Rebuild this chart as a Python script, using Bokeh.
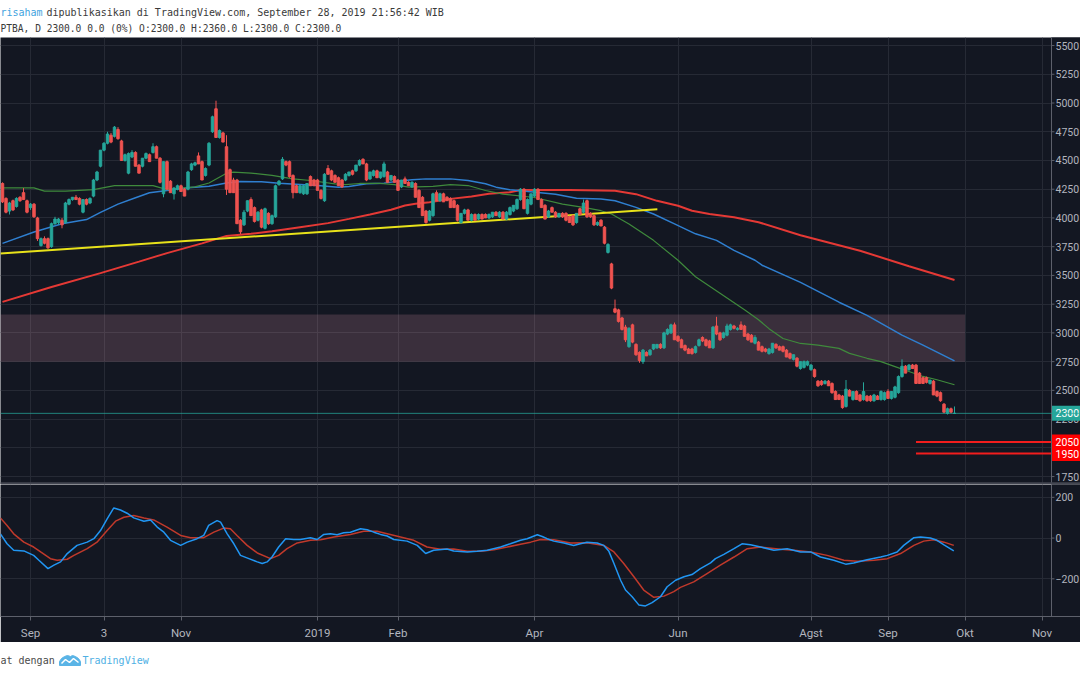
from bokeh.plotting import figure
from bokeh.models import Range1d, FixedTicker, Grid, Span, Label, ColumnDataSource
from bokeh.layouts import column
from bokeh.embed import file_html
from bokeh.resources import INLINE
from bokeh.core.properties import value

# ---------------- header texts ----------------
publisher = "risaham"
published = "dipublikasikan di TradingView.com, September 28, 2019 21:56:42 WIB"
info_line = "PTBA, D 2300.0 0.0 (0%) O:2300.0 H:2360.0 L:2300.0 C:2300.0"
footer_text = "at dengan"
brand = "TradingView"

# ---------------- axes ----------------
month_idx = [8, 29, 51, 90, 113, 152, 193, 231, 253, 275, 297]
month_labels = ["Sep", "3", "Nov", "2019", "Feb", "Apr", "Jun", "Agst", "Sep", "Okt", "Nov"]
price_ticks = [1750, 2000, 2250, 2500, 2750, 3000, 3250, 3500, 3750, 4000,
               4250, 4500, 4750, 5000, 5250, 5500]
osc_ticks = [-200, 0, 200]
osc_tick_labels = ["\u2212200", "0", "200"]

# ---------------- daily candles (bar index 0..272) ----------------
open_ = [4300,4170,4060,4150,4100,4180,4220,4150,4090,4120,
         4000,3760,3820,3820,3750,3950,3960,3980,3960,4120,
         4160,4180,4170,4050,4160,4130,4190,4330,4450,4590,
         4650,4720,4710,4770,4670,4500,4390,4530,4570,4460,
         4450,4520,4550,4570,4620,4520,4210,4490,4320,4210,
         4250,4280,4250,4250,4420,4460,4540,4490,4370,4460,
         4750,4950,4700,4740,4620,4420,4330,4330,3980,3940,
         4060,4160,4090,3980,4070,3910,4040,3950,4010,4290,
         4340,4490,4490,4370,4280,4220,4210,4210,4360,4330,
         4330,4240,4150,4430,4410,4370,4350,4330,4330,4370,
         4410,4410,4460,4510,4470,4340,4370,4410,4350,4360,
         4400,4330,4360,4330,4270,4340,4310,4270,4300,4240,
         4180,4060,3980,4020,4220,4150,4210,4180,4170,4150,
         4110,3960,4040,4070,3980,4030,3990,4030,4030,4000,
         4010,4050,4010,4050,3990,4030,4060,4080,4160,4250,
         4040,4120,4190,4250,4160,4110,4010,4090,4050,4010,
         4040,4040,4010,4020,3960,4080,4050,4150,4040,4020,
         3940,3980,3920,3700,3600,3210,3200,3130,3050,2880,
         3070,2900,2830,2750,2830,2810,2860,2870,2900,2870,
         2990,3000,3070,2970,2940,2890,2860,2860,2830,2890,
         2960,2940,2930,2870,3060,3000,2960,2980,3030,3060,
         3030,3070,3060,2990,2980,2910,2920,2880,2860,2820,
         2830,2900,2880,2880,2850,2820,2770,2780,2690,2700,
         2720,2680,2680,2580,2580,2560,2580,2560,2490,2460,
         2450,2360,2500,2420,2490,2460,2420,2450,2450,2410,
         2450,2420,2420,2490,2430,2440,2480,2620,2710,2680,
         2720,2720,2650,2610,2610,2560,2580,2490,2480,2380,
         2300,2340,2300]
high = [4310,4180,4140,4160,4180,4190,4260,4160,4130,4130,
        4010,3830,3840,3830,3960,4010,4000,4000,4140,4170,
        4180,4200,4180,4160,4170,4180,4340,4410,4590,4660,
        4750,4740,4800,4790,4680,4560,4570,4590,4580,4470,
        4520,4570,4560,4650,4630,4530,4490,4500,4330,4270,
        4290,4290,4260,4410,4480,4490,4570,4500,4440,4660,
        4890,5020,4770,4750,4720,4430,4350,4340,3990,4070,
        4150,4180,4100,4060,4080,4090,4050,4030,4290,4330,
        4530,4500,4500,4380,4290,4290,4290,4300,4370,4340,
        4340,4250,4390,4460,4420,4380,4360,4340,4390,4400,
        4420,4460,4510,4520,4480,4400,4420,4420,4400,4490,
        4410,4370,4370,4340,4330,4360,4320,4320,4310,4250,
        4190,4070,4070,4220,4240,4220,4220,4190,4180,4160,
        4120,4040,4080,4080,4040,4040,4040,4040,4040,4040,
        4050,4060,4060,4060,4060,4100,4110,4170,4260,4260,
        4170,4210,4260,4260,4170,4120,4070,4100,4060,4040,
        4050,4050,4020,4030,4040,4090,4160,4160,4050,4030,
        3970,3990,3930,3780,3610,3290,3210,3140,3070,3050,
        3080,2910,2840,2860,2840,2860,2900,2900,2910,3010,
        3040,3080,3090,2980,2950,2900,2870,2870,2890,2950,
        2970,2950,2940,3060,3140,3010,3010,3080,3080,3070,
        3050,3100,3070,3000,2990,2980,2930,2890,2870,2870,
        2910,2910,2890,2890,2860,2830,2810,2790,2750,2760,
        2760,2730,2690,2590,2590,2590,2590,2570,2500,2470,
        2460,2590,2510,2490,2500,2470,2570,2460,2460,2470,
        2460,2500,2490,2510,2490,2540,2630,2770,2720,2730,
        2730,2730,2660,2620,2620,2590,2590,2500,2490,2390,
        2350,2350,2360]
low = [4130,4040,4030,4060,4090,4140,4160,4040,4070,4000,
       3800,3750,3770,3730,3740,3940,3940,3910,3950,4110,
       4150,4160,4110,4040,4110,4120,4180,4320,4440,4580,
       4640,4650,4700,4680,4500,4490,4380,4520,4450,4390,
       4440,4510,4490,4560,4520,4300,4180,4250,4220,4160,
       4240,4230,4190,4240,4410,4450,4470,4330,4360,4450,
       4740,4700,4690,4660,4200,4220,4220,3950,3860,3930,
       4050,4020,3960,3970,3910,3900,3940,3940,4000,4280,
       4330,4450,4350,4170,4220,4210,4200,4200,4280,4280,
       4240,4160,4140,4380,4320,4310,4280,4260,4320,4360,
       4370,4400,4450,4470,4320,4330,4360,4350,4340,4350,
       4310,4320,4310,4240,4260,4300,4280,4260,4180,4090,
       4020,3950,3970,4010,4150,4140,4140,4150,4090,4090,
       3970,3950,4030,3980,3970,3980,3980,3990,4000,3990,
       4000,4020,4000,3990,3980,4020,4050,4070,4150,4080,
       4030,4110,4180,4160,4090,3990,4000,4050,4000,4000,
       4000,3970,3960,3930,3950,4030,4040,4000,4000,3930,
       3930,3930,3770,3690,3380,3170,3090,3020,2920,2870,
       2910,2800,2740,2730,2800,2800,2850,2860,2860,2860,
       2980,2990,2940,2920,2870,2840,2820,2810,2820,2880,
       2920,2880,2870,2860,2980,2930,2950,2970,3020,3030,
       3020,3030,2970,2930,2920,2900,2850,2830,2830,2810,
       2820,2860,2850,2830,2790,2770,2760,2700,2680,2690,
       2710,2670,2610,2530,2540,2550,2540,2470,2420,2420,
       2340,2350,2450,2410,2420,2400,2410,2400,2400,2400,
       2420,2410,2410,2430,2420,2430,2470,2610,2650,2670,
       2690,2560,2560,2560,2560,2550,2460,2440,2400,2300,
       2290,2300,2300]
close = [4140,4050,4130,4070,4170,4150,4160,4050,4120,4010,
         3820,3820,3780,3740,3950,3990,3990,3940,4130,4160,
         4180,4160,4120,4160,4120,4170,4330,4400,4590,4650,
         4730,4660,4790,4690,4500,4550,4560,4570,4450,4390,
         4520,4560,4490,4620,4520,4310,4490,4250,4220,4260,
         4280,4230,4190,4400,4470,4480,4470,4330,4430,4650,
         4880,4700,4760,4660,4250,4220,4220,3950,3880,4050,
         4150,4020,3970,4050,3920,4080,3950,4020,4280,4320,
         4510,4460,4360,4220,4220,4280,4280,4300,4280,4280,
         4240,4170,4380,4380,4330,4310,4280,4270,4380,4400,
         4380,4460,4500,4470,4330,4400,4410,4350,4400,4470,
         4310,4370,4310,4240,4330,4300,4280,4310,4180,4090,
         4020,3960,4060,4210,4150,4210,4140,4150,4090,4090,
         3980,4040,4070,3980,4030,3980,4030,3990,4000,4030,
         4050,4020,4050,3990,4050,4090,4110,4160,4250,4080,
         4160,4210,4250,4160,4090,3990,4060,4050,4010,4040,
         4010,3980,3960,3940,4040,4030,4130,4010,4010,3940,
         3960,3930,3780,3770,3390,3180,3100,3030,2940,3040,
         2920,2810,2760,2850,2800,2850,2900,2900,2870,3000,
         3030,3070,2940,2930,2870,2850,2820,2820,2880,2940,
         2930,2890,2870,3050,2990,2940,3000,3060,3070,3040,
         3040,3030,2970,2940,2920,2960,2850,2840,2840,2860,
         2910,2870,2850,2840,2790,2780,2810,2710,2750,2750,
         2750,2720,2620,2540,2550,2580,2540,2480,2420,2420,
         2350,2510,2450,2490,2420,2410,2490,2410,2410,2460,
         2420,2490,2480,2430,2490,2530,2620,2710,2650,2720,
         2690,2560,2560,2560,2570,2590,2460,2450,2410,2310,
         2340,2310,2300]

# ---------------- moving averages (read at sample bars) ----------------
ma_green_x = [0,9,12,18,26,32,43,47,55,59,64,66,71,77,83,88,95,98,102,108,
              112,116,123,128,133,138,143,152,160,166,171,174,179,186,193,198,205,212,216,219,
              223,228,233,239,242,247,251,255,259,263,267,272]
ma_green_y = [4262,4262,4233,4233,4247,4281,4281,4247,4270,4304,4389,4398,4390,4370,4340,4326,4297,4290,4300,4300,
              4290,4268,4274,4290,4282,4239,4207,4178,4121,4092,4063,4034,3948,3805,3632,3488,3345,3201,3115,3037,
              2951,2908,2894,2865,2822,2779,2750,2707,2664,2621,2592,2549]
ma_blue_x = [0,9,17,24,28,33,38,42,47,53,59,64,68,74,79,90,96,99,104,109,
             113,117,121,128,133,138,141,145,148,158,164,171,175,181,186,192,198,204,209,215,
             217,228,239,247,257,263,272]
ma_blue_y = [3779,3878,3949,3986,4049,4120,4176,4219,4239,4262,4276,4304,4318,4315,4303,4282,4268,4274,4297,4303,
             4320,4332,4340,4340,4326,4297,4268,4245,4236,4207,4172,4164,4149,4092,4034,3948,3862,3805,3718,3632,
             3589,3440,3267,3152,2980,2894,2756]
ma_red_x = [0,14,28,39,47,57,64,71,77,85,93,99,105,111,115,118,122,128,134,139,
            145,148,162,175,181,187,193,197,202,209,216,228,245,259,272]
ma_red_y = [3270,3400,3520,3620,3694,3779,3844,3862,3885,3920,3955,3992,4030,4071,4108,4123,4137,4166,4187,4210,
            4224,4244,4244,4236,4207,4149,4106,4063,4034,4006,3963,3850,3715,3580,3460]

# ---------------- drawings ----------------
trend_x = [-0.6, 187.1]
trend_y = [3690, 4075]
zone_left, zone_right = -1, 275
zone_low, zone_high = 2750, 3160
level_prices = [2050, 1950]
level_start = 261

# ---------------- oscillator ----------------
osc_blue_x = [-0.6,1.3,3.2,6.1,8.9,10.4,13.0,14.7,16.6,18.5,21.3,24.2,26.1,28.0,29.9,31.8,33.7,35.6,37.5,40.4,
              42.3,44.2,46.1,48.0,50.9,52.8,55.6,57.5,58.9,61.3,62.3,64.2,66.1,68.0,70.4,72.8,74.2,75.6,77.0,78.9,
              80.9,83.2,85.1,88.0,89.9,91.8,93.7,95.6,97.5,99.4,102.3,104.2,106.1,108.0,109.9,111.8,115.6,118.5,120.9,123.2,
              127.0,128.9,132.8,135.6,138.5,142.3,145.1,148.0,149.9,152.8,154.2,155.6,157.5,160.4,163.2,165.1,167.0,169.9,171.8,173.2,
              174.7,176.6,178.0,179.9,181.8,183.7,185.6,188.0,189.9,192.3,194.7,197.0,199.4,202.3,203.7,206.1,209.0,211.3,213.7,216.6,
              220.4,224.2,228.0,230.9,233.7,237.5,240.9,243.2,247.0,250.9,252.8,255.6,257.5,260.4,262.3,265.1,267.0,269.0,271.8]
osc_blue = [21,-28,-60,-63,-85,-109,-150,-133,-117,-76,-36,-20,-3,37,94,148,138,122,99,83,
            89,54,29,-11,-36,-20,-3,13,62,86,78,21,-28,-85,-101,-117,-125,-117,-93,-44,
            -3,-7,-7,2,-7,18,21,16,26,29,46,41,29,18,10,-7,-15,-36,-76,-60,
            -54,-63,-68,-65,-60,-44,-28,-11,-3,16,8,-3,-15,-24,-36,-28,-20,-24,-36,-63,
            -125,-207,-255,-288,-328,-333,-317,-288,-239,-207,-190,-179,-150,-122,-101,-80,-52,-28,-33,-44,
            -60,-52,-68,-68,-93,-109,-128,-122,-106,-93,-85,-68,-36,2,5,0,-11,-33,-63]
osc_red_x = [-0.6,1.3,3.2,6.1,8.9,10.9,13.7,15.6,18.5,20.4,24.2,27.0,29.9,32.3,34.7,37.5,40.4,43.2,47.0,50.9,
             53.7,57.5,60.4,63.2,65.1,67.0,69.9,72.8,76.6,78.9,81.3,84.2,88.0,90.9,94.7,99.4,103.2,107.0,109.9,113.7,
             117.5,121.3,125.1,128.9,132.8,136.6,140.4,144.2,148.0,150.9,153.7,157.5,162.3,167.0,171.8,174.7,177.5,180.4,183.2,186.1,
             189.0,191.8,193.7,197.5,201.3,205.1,209.0,212.8,216.6,222.3,226.1,230.9,235.6,240.4,244.2,249.0,252.8,256.6,260.4,263.2,
             266.1,269.0,271.8]
osc_red = [99,62,21,-20,-44,-68,-101,-109,-104,-85,-52,-20,37,83,102,111,99,89,54,13,
           2,2,29,49,46,13,-36,-73,-101,-85,-52,-24,-11,-8,5,18,34,33,21,5,
           -11,-44,-55,-54,-65,-65,-57,-44,-30,-20,-7,-8,-24,-23,-36,-68,-125,-190,-255,-291,
           -285,-263,-242,-215,-174,-133,-93,-52,-44,-55,-60,-68,-85,-109,-114,-109,-101,-76,-36,-15,
           -8,-20,-36]

# ---------------- layout / style constants ----------------
W = 1080
H_HDR, H_PRICE, H_OSC, H_FTR = 37, 447, 158, 33
BG = "#131722"
GRID_C = "#262a35"
AX_LINE = "#5d606b"
AX_TXT = "#b2b5be"
UP = "#26a69a"
DOWN = "#ef5350"
AX_FONT = "Roboto"
BAR_PX = 3.5             # pixels per bar
X_START = -2 / BAR_PX    # bar index at the left edge of the panes
X_END = X_START + W / BAR_PX
AXIS_X = X_START + 1051 / BAR_PX     # price-scale line
TICK_X = X_START + 1055 / BAR_PX     # end of tick marks / start of labels
P_LO, P_HI = 1681, 5570
PRICE_PER_PX = (P_HI - P_LO) / H_PRICE
O_LO, O_HI = -385, 263

n = len(close)
src = ColumnDataSource(dict(
    x=list(range(n)), h=high, l=low,
    top=[max(o, c) for o, c in zip(open_, close)],
    bottom=[min(o, c) for o, c in zip(open_, close)],
    color=[UP if c >= o else DOWN for o, c in zip(open_, close)],
))


def blank(fig):
    fig.grid.visible = False


# ---------------- header ----------------
hdr = figure(width=W, height=H_HDR, x_range=Range1d(0, W), y_range=Range1d(0, H_HDR),
             toolbar_location=None, output_backend="svg", title=None,
             x_axis_location=None, y_axis_location=None, min_border=0,
             background_fill_color="white", border_fill_color="white", outline_line_color=None)
blank(hdr)
hdr.add_layout(Label(x=0, y=25, text=publisher, text_font="DejaVu Sans Mono", text_font_size="10px",
                     text_color="#3fa3de", text_baseline="middle"))
hdr.add_layout(Label(x=46, y=25, text=published, text_font="DejaVu Sans Mono", text_font_size="10px",
                     text_color="#3a3a3a", text_baseline="middle"))
hdr.add_layout(Label(x=0, y=9, text=info_line, text_font="DejaVu Sans Mono", text_font_size="9.6px",
                     text_color="#3a3a3a", text_baseline="middle"))


def price_scale(fig, ticks, labels, lo, hi):
    # mask for the scale column, scale line, tick marks and tick labels
    fig.quad(left=[AXIS_X], right=[X_END + 5], bottom=[lo - 1000], top=[hi + 1000],
             fill_color=BG, line_color=None)
    fig.add_layout(Span(location=AXIS_X, dimension="height", line_color=AX_LINE, line_width=1))
    fig.segment(x0=[AXIS_X] * len(ticks), x1=[TICK_X - 0.3] * len(ticks), y0=ticks, y1=ticks,
                line_color=AX_LINE, line_width=1)
    fig.text(x=[TICK_X] * len(ticks), y=ticks, text=labels, text_font=value(AX_FONT),
             text_font_size="10.5px", text_color=AX_TXT, text_baseline="middle", text_align="left")


# ---------------- price pane ----------------
p = figure(width=W, height=H_PRICE, x_range=Range1d(X_START, X_END), y_range=Range1d(P_LO, P_HI),
           toolbar_location=None, output_backend="svg", title=None,
           x_axis_location=None, y_axis_location=None,
           background_fill_color=BG, border_fill_color=BG, outline_line_color=None, min_border=0)
blank(p)
p.add_layout(Grid(dimension=0, ticker=FixedTicker(ticks=month_idx), grid_line_color=GRID_C))
p.add_layout(Grid(dimension=1, ticker=FixedTicker(ticks=price_ticks), grid_line_color=GRID_C))

p.quad(left=[zone_left], right=[zone_right], bottom=[zone_low], top=[zone_high],
       fill_color="#f0a0b8", fill_alpha=0.18, line_color=None)
p.line(ma_red_x, ma_red_y, line_color="#e53935", line_width=2)
p.line(ma_blue_x, ma_blue_y, line_color="#2f7fd0", line_width=1.5)
p.line(ma_green_x, ma_green_y, line_color="#3f8a3c", line_width=1.2)
p.line(trend_x, trend_y, line_color="#e8e21a", line_width=2)

p.segment(x0="x", x1="x", y0="h", y1="l", color="color", line_width=1, source=src)
p.vbar(x="x", width=0.7, top="top", bottom="bottom", fill_color="color", line_color="color",
       line_width=1, source=src)

price_scale(p, price_ticks, [str(t) for t in price_ticks], P_LO, P_HI)

p.add_layout(Span(location=close[-1], dimension="width", line_color=UP, line_alpha=0.75, line_width=1))
for lv in level_prices:
    p.segment(x0=[level_start], x1=[X_END + 5], y0=[lv], y1=[lv], line_color="#f21d1d", line_width=2)

# price badges on the scale
badge_vals = [close[-1]] + level_prices
badge_cols = [UP, "#ff0000", "#ff0000"]
half = 7.5 * PRICE_PER_PX
p.quad(left=[AXIS_X + 0.15] * 3, right=[X_END + 5] * 3,
       bottom=[v - half for v in badge_vals], top=[v + half for v in badge_vals],
       fill_color=badge_cols, line_color=None)
p.text(x=[TICK_X] * 3, y=badge_vals, text=[str(v) for v in badge_vals], text_font=value(AX_FONT),
       text_font_size="10.5px", text_color="white", text_baseline="middle", text_align="left")

p.add_layout(Span(location=P_LO + 1.2 * PRICE_PER_PX, dimension="width", line_color="#434651", line_width=2))

# ---------------- oscillator pane ----------------
o = figure(width=W, height=H_OSC, x_range=p.x_range, y_range=Range1d(O_LO, O_HI),
           toolbar_location=None, output_backend="svg", title=None,
           x_axis_location="below", y_axis_location=None,
           background_fill_color=BG, border_fill_color=BG, outline_line_color=None,
           min_border_left=0, min_border_right=0, min_border_top=0, min_border_bottom=25)
blank(o)
o.add_layout(Grid(dimension=0, ticker=FixedTicker(ticks=month_idx), grid_line_color=GRID_C))
o.add_layout(Grid(dimension=1, ticker=FixedTicker(ticks=osc_ticks), grid_line_color=GRID_C))
o.xaxis.ticker = FixedTicker(ticks=month_idx)
o.xaxis.major_label_overrides = {i: lab for i, lab in zip(month_idx, month_labels)}
o.xaxis.axis_line_color = AX_LINE
o.xaxis.major_tick_line_color = AX_LINE
o.xaxis.major_tick_out = 4
o.xaxis.major_tick_in = 0
o.xaxis.minor_tick_line_color = None
o.xaxis.major_label_text_color = AX_TXT
o.xaxis.major_label_text_font = AX_FONT
o.xaxis.major_label_text_font_size = "11.5px"
o.xaxis.major_label_standoff = 5

o.line(osc_red_x, osc_red, line_color="#c0392b", line_width=1.5)
o.line(osc_blue_x, osc_blue, line_color="#2196f3", line_width=1.5)
price_scale(o, osc_ticks, osc_tick_labels, O_LO, O_HI)

# ---------------- footer ----------------
ftr = figure(width=W, height=H_FTR, x_range=Range1d(0, W), y_range=Range1d(0, H_FTR),
             toolbar_location=None, output_backend="svg", title=None,
             x_axis_location=None, y_axis_location=None, min_border=0,
             background_fill_color="white", border_fill_color="white", outline_line_color=None)
blank(ftr)
ftr.add_layout(Label(x=0, y=15, text=footer_text, text_font="DejaVu Sans Mono", text_font_size="10px",
                     text_color="#4a4a4a", text_baseline="middle"))
ftr.patch(x=[59, 59, 61, 64, 67, 70, 72, 75, 78, 80, 80],
          y=[10, 14, 17, 19, 20, 19, 20, 19, 17, 14, 10], fill_color="#5ab4e6", line_color="#5ab4e6")
ftr.line(x=[61, 65, 69, 73, 78], y=[12, 16, 13, 17, 13], line_color="white", line_width=1.5)
ftr.add_layout(Label(x=82, y=15, text=brand, text_font="DejaVu Sans Mono", text_font_size="10px",
                     text_color="#4fb0e4", text_baseline="middle"))

layout = column(hdr, p, o, ftr, spacing=0)
open("out.html", "w").write(file_html(layout, INLINE))
